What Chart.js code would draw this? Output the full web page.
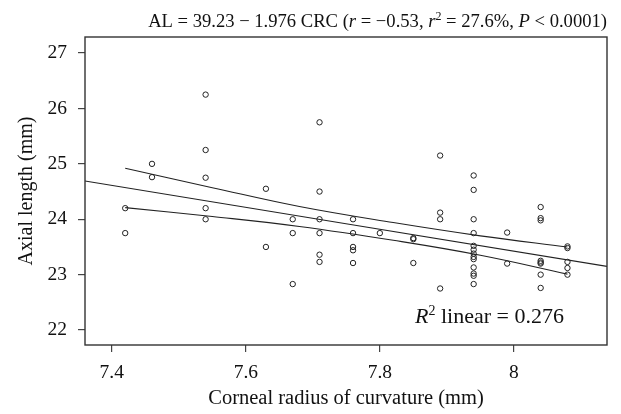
<!DOCTYPE html>
<html>
<head>
<meta charset="utf-8">
<script src="https://cdn.jsdelivr.net/npm/chart.js@4"></script>
<style>
  html, body { margin: 0; padding: 0; background: #fff; }
</style>
</head>
<body>
<canvas id="chart" width="621" height="414"></canvas>
<script>
// corneal radius of curvature (mm) and axial length (mm), one pair per eye
const crcValues = [
  7.42, 7.42,
  7.46, 7.46,
  7.54, 7.54, 7.54, 7.54, 7.54,
  7.63, 7.63,
  7.67, 7.67, 7.67,
  7.71, 7.71, 7.71, 7.71, 7.71, 7.71,
  7.76, 7.76, 7.76, 7.76, 7.76,
  7.80,
  7.85, 7.85, 7.85,
  7.89, 7.89, 7.89, 7.89,
  7.94, 7.94, 7.94, 7.94, 7.94, 7.94, 7.94, 7.94, 7.94, 7.94, 7.94, 7.94, 7.94,
  7.99, 7.99,
  8.04, 8.04, 8.04, 8.04, 8.04, 8.04, 8.04, 8.04,
  8.08, 8.08, 8.08, 8.08, 8.08
];
const alValues = [
  24.20, 23.75,
  25.00, 24.76,
  26.25, 25.25, 24.75, 24.20, 24.00,
  24.55, 23.50,
  24.00, 23.75, 22.83,
  25.75, 24.50, 24.00, 23.75, 23.36, 23.23,
  24.00, 23.75, 23.50, 23.44, 23.21,
  23.75,
  23.66, 23.64, 23.21,
  25.15, 24.12, 24.00, 22.75,
  24.79, 24.53, 24.00, 23.75, 23.52, 23.45, 23.38, 23.32, 23.28, 23.13, 23.02, 22.98, 22.83,
  23.76, 23.20,
  24.22, 24.02, 23.98, 23.25, 23.22, 23.20, 23.00, 22.76,
  23.51, 23.48, 23.23, 23.12, 23.00
];

// fitted line, read at the plot edges
const fitX = [7.36, 8.139];
const fitY = [24.69, 23.15];

// confidence band of the fit
const bandX = [7.42, 7.55, 7.68, 7.82, 7.95, 8.08];
const bandUpper = [24.92, 24.57, 24.23, 23.94, 23.70, 23.50];
const bandLower = [24.21, 24.05, 23.87, 23.62, 23.35, 23.01];

const xTicks = [7.4, 7.6, 7.8, 8];
const xTickLabels = ['7.4', '7.6', '7.8', '8'];
const yTicks = [22, 23, 24, 25, 26, 27];

const FONT = 'Liberation Serif';
const INK = '#222';

const toPoints = (xs, ys) => xs.map((x, i) => ({ x: x, y: ys[i] }));

const lineSet = (data) => ({
    data: data,
    showLine: true,
    borderColor: INK,
    borderWidth: 1.1,
    pointRadius: 0,
    fill: false,
    tension: 0.4
});

// draw a run of text pieces, some italic, some raised
const drawRich = (ctx, pieces, x, y, size, align) => {
    const fontFor = (p) => `${p.italic ? 'italic ' : ''}${p.sup ? Math.round(size * 0.62) : size}px "${FONT}"`;
    let total = 0;
    pieces.forEach(p => {
        ctx.font = fontFor(p);
        total += ctx.measureText(p.t).width;
    });
    let cx = align === 'right' ? x - total : x;
    ctx.save();
    ctx.fillStyle = '#111';
    ctx.textBaseline = 'alphabetic';
    ctx.textAlign = 'left';
    pieces.forEach(p => {
        ctx.font = fontFor(p);
        ctx.fillText(p.t, cx, p.sup ? y - size * 0.38 : y);
        cx += ctx.measureText(p.t).width;
    });
    ctx.restore();
};

const titlePieces = [
    { t: 'AL = 39.23 \u2212 1.976 CRC (' },
    { t: 'r', italic: true },
    { t: ' = \u22120.53, ' },
    { t: 'r', italic: true },
    { t: '2', sup: true },
    { t: ' = 27.6%, ' },
    { t: 'P', italic: true },
    { t: ' < 0.0001)' }
];
const r2Pieces = [
    { t: 'R', italic: true },
    { t: '2', sup: true },
    { t: ' linear = 0.276' }
];

const framePlugin = {
    id: 'frame',
    afterDraw: (chart) => {
        const { ctx, chartArea: a } = chart;
        ctx.save();
        ctx.strokeStyle = '#333';
        ctx.lineWidth = 1.4;
        ctx.strokeRect(a.left, a.top, a.right - a.left, a.bottom - a.top);
        ctx.restore();
        drawRich(ctx, titlePieces, a.right, 27, 18.6, 'right');
        drawRich(ctx, r2Pieces, 415, 323, 22, 'left');
    }
};

const tickFont = { family: FONT, size: 19.5 };

new Chart(document.getElementById('chart'), {
    type: 'scatter',
    data: {
        datasets: [
            {
                data: toPoints(crcValues, alValues),
                pointStyle: 'circle',
                pointRadius: 2.7,
                borderWidth: 1,
                borderColor: INK,
                backgroundColor: 'rgba(255,255,255,0)'
            },
            lineSet(toPoints(fitX, fitY)),
            lineSet(toPoints(bandX, bandUpper)),
            lineSet(toPoints(bandX, bandLower))
        ]
    },
    options: {
        responsive: false,
        animation: false,
        layout: { padding: { top: 37, right: 14, left: 0, bottom: 0 } },
        plugins: {
            legend: { display: false },
            tooltip: { enabled: false }
        },
        scales: {
            x: {
                type: 'linear',
                min: 7.36,
                max: 8.139,
                afterBuildTicks: (scale) => { scale.ticks = xTicks.map(v => ({ value: v })); },
                afterFit: (scale) => { scale.height = 69; },
                ticks: {
                    font: tickFont,
                    color: '#111',
                    padding: 9,
                    maxRotation: 0,
                    callback: (v) => xTickLabels[xTicks.indexOf(v)]
                },
                grid: { drawOnChartArea: false, drawTicks: true, tickLength: 7, color: '#444', lineWidth: 1.2 },
                border: { display: false },
                title: { display: true, text: 'Corneal radius of curvature (mm)', font: { family: FONT, size: 20.5 }, color: '#111', padding: { top: 0, bottom: 3 } }
            },
            y: {
                min: 21.73,
                max: 27.29,
                afterBuildTicks: (scale) => { scale.ticks = yTicks.map(v => ({ value: v })); },
                afterFit: (scale) => { scale.width = 85; },
                ticks: { font: tickFont, color: '#111', padding: 11 },
                grid: { drawOnChartArea: false, drawTicks: true, tickLength: 7, color: '#444', lineWidth: 1.2 },
                border: { display: false },
                title: { display: true, text: 'Axial length (mm)', font: { family: FONT, size: 20 }, color: '#111', padding: { top: 15, bottom: 0 } }
            }
        }
    },
    plugins: [framePlugin]
});
</script>
</body>
</html>
